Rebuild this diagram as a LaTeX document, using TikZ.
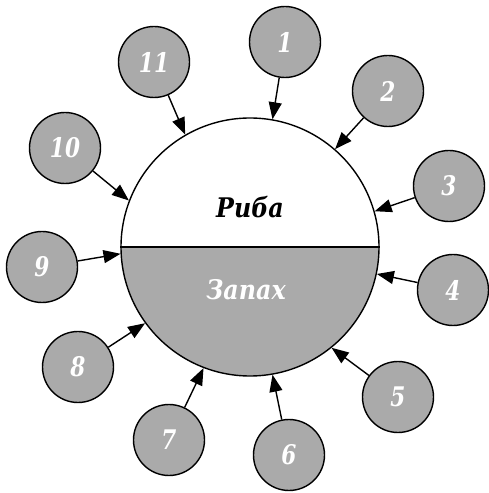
\documentclass[tikz,border=0pt]{standalone}
\usepackage{fontspec}
\setmainfont{DejaVu Serif}[FakeStretch=0.88]
\newfontfamily\numfont{DejaVu Serif}[FakeStretch=0.8]
\usetikzlibrary{arrows.meta}
\definecolor{discgray}{RGB}{170,170,170}
\tikzset{
  numdisc/.style={circle, draw, line width=1.4pt, fill=discgray, minimum size=71pt,
    inner sep=0pt, text=white, font=\numfont\fontsize{27}{29}\selectfont\bfseries\itshape},
  feed/.style={line width=1.4pt, -{Triangle[length=17pt,width=13pt]}},
  biglabel/.style={font=\fontsize{27}{30}\selectfont\bfseries\itshape}
}
\begin{document}
\begin{tikzpicture}[x=1pt,y=1pt]
\useasboundingbox (0,0) rectangle (488,493);
% lower half of the main disc
\fill[discgray] (121,246) arc[start angle=180, end angle=360, radius=129pt] -- cycle;
\node[circle, draw, line width=1.4pt, minimum size=258pt, inner sep=0pt] (big) at (250,246) {};
\draw[line width=1.4pt] (big.west) -- (big.east);
\node[biglabel] (riba) at (250,286) {Риба};
\node[biglabel, text=white] (zapah) at (246,203) {Запах};
% numbered discs around it
\node[numdisc] (s1) at (285,451) {1};
\node[numdisc] (s2) at (388,402) {2};
\node[numdisc] (s3) at (449,307) {3};
\node[numdisc] (s4) at (453,203) {4};
\node[numdisc] (s5) at (398,96) {5};
\node[numdisc] (s6) at (289,38) {6};
\node[numdisc] (s7) at (169,53) {7};
\node[numdisc] (s8) at (78,126) {8};
\node[numdisc] (s9) at (42,226) {9};
\node[numdisc] (s10) at (65,345) {10};
\node[numdisc] (s11) at (154,431) {11};
% arrows into the main disc
\draw[feed] (s1) -- (big.80);
\draw[feed] (s2) -- (big.49);
\draw[feed] (s3) -- (big.16);
\draw[feed] (s4) -- (big.-12);
\draw[feed] (s5) -- (big.-51);
\draw[feed] (s6) -- (big.-80);
\draw[feed] (s7) -- (big.-111);
\draw[feed] (s8) -- (big.216);
\draw[feed] (s9) -- (big.183);
\draw[feed] (s10) -- (big.159);
\draw[feed] (s11) -- (big.120);
\end{tikzpicture}
\end{document}
